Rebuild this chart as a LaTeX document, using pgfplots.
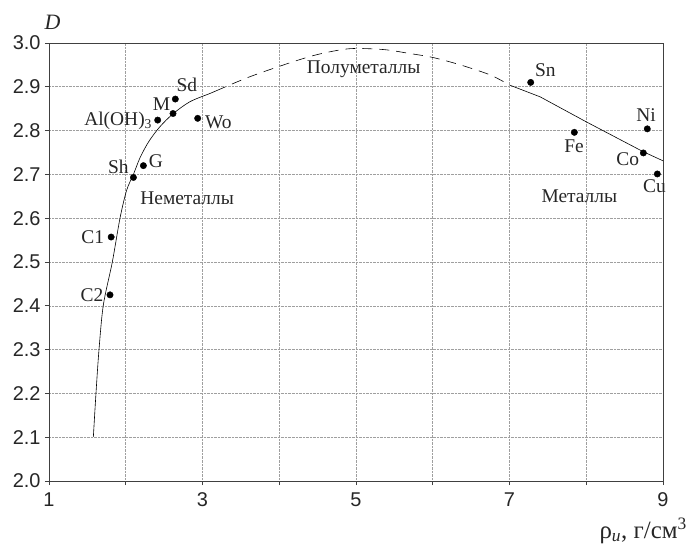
\documentclass[border=0pt]{standalone}
\usepackage{pgfplots}
\pgfplotsset{compat=1.18}
\usepackage{fontspec}
\setmainfont{Liberation Serif}
\setsansfont{Liberation Sans}
\usetikzlibrary{calc}
\begin{document}
\begin{tikzpicture}
\begin{axis}[
  scale only axis,
  width=614bp, height=438bp,
  xmin=1, xmax=9, ymin=2.0, ymax=3.0,
  xtick={1,2,...,9},
  xticklabels={1,,3,,5,,7,,9},
  ytick={2.0,2.1,...,3.01},
  yticklabel style={/pgf/number format/fixed, /pgf/number format/fixed zerofill, /pgf/number format/precision=1, xshift=-1bp},
  /pgf/number format/assume math mode=true,
  ticklabel style={font=\sffamily\fontsize{20}{22}\selectfont, text=black!85},
  tick pos=left,
  tick align=outside,
  major tick length=4bp,
  tick style={black!75, line width=0.8bp},
  axis line style={black!75, line width=0.8bp},
  grid=major,
  major grid style={gray!75, densely dotted, line width=0.6bp},
  xticklabel style={yshift=-4bp},
  clip=false,
]
% curve: rising solid part
\addplot[black, line width=0.6bp, smooth, tension=0.5] coordinates {
 (1.578,2.101) (1.612,2.200) (1.651,2.299) (1.708,2.402) (1.825,2.500)
 (1.925,2.600) (2.012,2.664) (2.100,2.700) (2.186,2.738) (2.30,2.775) (2.446,2.809)
 (2.62,2.839) (2.837,2.866) (3.10,2.885) (3.18,2.891)
};
% dashed part
\addplot[black, line width=0.6bp, smooth, tension=0.5, dash pattern=on 10bp off 7bp] coordinates {
 (3.18,2.891) (3.53,2.917) (3.79,2.934) (4.23,2.960) (4.53,2.975) (4.92,2.987)
 (5.36,2.985) (5.70,2.976) (6.0,2.967) (6.36,2.950) (6.75,2.927) (7.0,2.904)
};
% falling solid part
\addplot[black, line width=0.6bp] coordinates {
 (7.0,2.904) (7.40,2.877) (8.0,2.820) (8.74,2.752) (9.0,2.731)
};
% data points
\addplot[only marks, mark=*, mark size=3.2bp, black] coordinates {
 (1.795,2.425) (1.81,2.557) (2.10,2.693) (2.23,2.720) (2.416,2.824) (2.616,2.839)
 (2.646,2.872) (2.937,2.828) (7.276,2.910) (7.845,2.796) (8.795,2.804) (8.744,2.749)
 (8.926,2.701)
};
\tikzset{lbl/.style={font=\fontsize{19.5}{21}\selectfont, inner sep=0pt, text=black!85}}
\node[lbl, anchor=east] at (axis cs:1.71,2.425) {C2};
\node[lbl, anchor=east] at (axis cs:1.72,2.557) {C1};
\node[lbl, anchor=south east] at (axis cs:2.04,2.702) {Sh};
\node[lbl, anchor=west] at (axis cs:2.30,2.731) {G};
\node[lbl, anchor=east] at (axis cs:2.345,2.822) {Al(OH)\textsubscript{3}};
\node[lbl, anchor=south east] at (axis cs:2.58,2.845) {M};
\node[lbl, anchor=south west] at (axis cs:2.66,2.888) {Sd};
\node[lbl, anchor=west] at (axis cs:3.03,2.820) {Wo};
\node[lbl, anchor=south west] at (axis cs:7.33,2.922) {Sn};
\node[lbl, anchor=north] at (axis cs:7.84,2.779) {Fe};
\node[lbl, anchor=south] at (axis cs:8.78,2.820) {Ni};
\node[lbl, anchor=east] at (axis cs:8.69,2.734) {Co};
\node[lbl, anchor=north] at (axis cs:8.89,2.688) {Cu};
\node[lbl] at (axis cs:2.80,2.646) {Неметаллы};
\node[lbl] at (axis cs:5.10,2.941) {Полуметаллы};
\node[lbl] at (axis cs:7.91,2.651) {Металлы};
\node[font=\itshape\fontsize{22}{24}\selectfont, text=black!85, inner sep=0pt] at ($(rel axis cs:0,1)+(3.5bp,20.5bp)$) {D};
\node[font=\fontsize{25}{27}\selectfont, anchor=base east, text=black!85, inner sep=0pt] at ($(rel axis cs:1,0)+(24bp,-57bp)$) {ρ\textsubscript{\textit{и}}, г/см\textsuperscript{3}};
\end{axis}
\pgfresetboundingbox
\path[use as bounding box] ($(current axis.south west)+(-49bp,-66bp)$) rectangle ($(current axis.north east)+(27bp,43bp)$);
\end{tikzpicture}
\end{document}
